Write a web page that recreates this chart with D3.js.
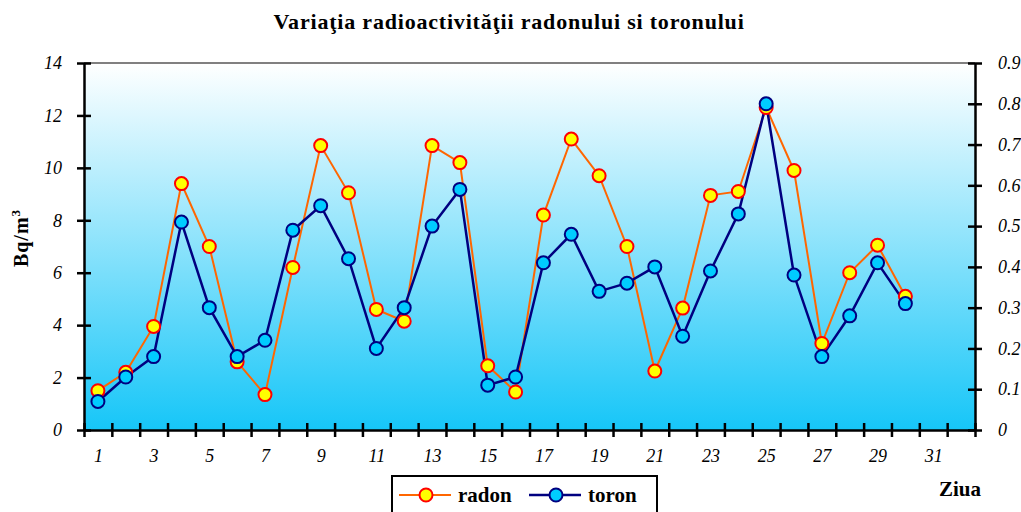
<!DOCTYPE html>
<html>
<head>
<meta charset="utf-8">
<script src="https://cdn.jsdelivr.net/npm/d3@7/dist/d3.min.js"></script>
<style>
  body { margin: 0; background: #fff; }
</style>
</head>
<body>
<div id="chart"></div>
<script>
const days = d3.range(1, 33);
const radon = [1.5, 2.2, 3.95, 9.4, 7.0, 2.6, 1.35, 6.2, 10.85, 9.05,
               4.6, 4.15, 10.85, 10.2, 2.45, 1.45, 8.2, 11.1, 9.7, 7.0,
               2.25, 4.65, 8.95, 9.1, 12.3, 9.9, 3.3, 6.0, 7.05, 5.1];
const toron = [0.07, 0.13, 0.18, 0.51, 0.30, 0.18, 0.22, 0.49, 0.55, 0.42,
               0.20, 0.30, 0.50, 0.59, 0.11, 0.13, 0.41, 0.48, 0.34, 0.36,
               0.40, 0.23, 0.39, 0.53, 0.80, 0.38, 0.18, 0.28, 0.41, 0.31];
const leftTicks = [0, 2, 4, 6, 8, 10, 12, 14];
const rightTicks = [0, 0.1, 0.2, 0.3, 0.4, 0.5, 0.6, 0.7, 0.8, 0.9];
const dayLabels = days.filter(d => d % 2 === 1);

const W = 1021, H = 512;
const margin = {top: 63, right: 46, bottom: 82, left: 84};
const width = W - margin.left - margin.right;
const height = H - margin.top - margin.bottom;
const font = '"Liberation Serif", "Times New Roman", "Liberation Sans", sans-serif';

let svg = d3.select('#chart').append('svg')
    .attr('width', W).attr('height', H)
    .attr('font-family', font);

let grad = svg.append('defs').append('linearGradient')
    .attr('id', 'bg').attr('x1', 0).attr('y1', 0).attr('x2', 0).attr('y2', 1);
grad.append('stop').attr('offset', '0%').attr('stop-color', '#ffffff');
grad.append('stop').attr('offset', '100%').attr('stop-color', '#16c6f8');

let g = svg.append('g').attr('transform', 'translate(' + margin.left + ',' + margin.top + ')');

let x = d3.scaleLinear().domain([0.5, days.length + 0.5]).range([0, width]);
let yL = d3.scaleLinear().domain([0, 14]).range([height, 0]);
let yR = d3.scaleLinear().domain([0, 0.9]).range([height, 0]);

g.append('rect').attr('width', width).attr('height', height).attr('fill', 'url(#bg)');
g.append('line').attr('x1', 0).attr('x2', width).attr('y1', 0).attr('y2', 0)
    .attr('stroke', '#808080').attr('stroke-width', 2);

// left axis, ticks crossing the line
let axL = g.append('g')
    .call(d3.axisLeft(yL).tickValues(leftTicks).tickSize(14).tickPadding(8).tickSizeOuter(0));
axL.selectAll('.tick line').attr('transform', 'translate(7,0)');

let axR = g.append('g').attr('transform', 'translate(' + width + ',0)')
    .call(d3.axisRight(yR).tickValues(rightTicks).tickSize(14).tickPadding(9)
        .tickSizeOuter(0).tickFormat(d => d === 0 ? '0' : d3.format('.1f')(d)));
axR.selectAll('.tick line').attr('transform', 'translate(-7,0)');

let axB = g.append('g').attr('transform', 'translate(0,' + height + ')')
    .call(d3.axisBottom(x).tickValues(d3.range(0.5, days.length + 1, 1))
        .tickSize(14).tickSizeOuter(0).tickFormat(''));
axB.selectAll('.tick line').attr('transform', 'translate(0,-7)');

let axBL = g.append('g').attr('transform', 'translate(0,' + height + ')')
    .call(d3.axisBottom(x).tickValues(dayLabels).tickSize(0).tickPadding(19));
axBL.select('.domain').remove();

[axL, axR, axB].forEach(a => {
    a.select('.domain').attr('stroke', '#000').attr('stroke-width', 2.5);
    a.selectAll('.tick line').attr('stroke', '#000').attr('stroke-width', 2.5);
});
[axL, axR, axBL].forEach(a => {
    a.attr('font-family', font);
    a.selectAll('text').attr('font-size', 18).attr('font-style', 'italic').attr('fill', '#000');
});

const series = [
    {name: 'radon', data: radon, y: yL, line: '#ff6600', lw: 2, fill: '#ffff00', stroke: '#ff0000'},
    {name: 'toron', data: toron, y: yR, line: '#000080', lw: 2.5, fill: '#00ccff', stroke: '#000080'}
];

series.forEach(s => {
    let line = d3.line().x((d, i) => x(i + 1)).y(d => s.y(d));
    g.append('path').datum(s.data)
        .attr('fill', 'none').attr('stroke', s.line).attr('stroke-width', s.lw)
        .attr('d', line);
});
series.forEach(s => {
    g.append('g').selectAll('circle').data(s.data).join('circle')
        .attr('cx', (d, i) => x(i + 1)).attr('cy', d => s.y(d)).attr('r', 6.5)
        .attr('fill', s.fill).attr('stroke', s.stroke).attr('stroke-width', 2);
});

// title and axis labels
svg.append('text').attr('x', 509).attr('y', 29).attr('text-anchor', 'middle')
    .attr('font-size', 22).attr('font-weight', 'bold').attr('letter-spacing', 0.8)
    .text('Variaţia radioactivităţii radonului si toronului');
let yt = svg.append('text').attr('transform', 'translate(28,238) rotate(-90)').attr('text-anchor', 'middle')
    .attr('font-size', 20).attr('font-weight', 'bold').attr('letter-spacing', 1);
yt.append('tspan').text('Bq/m');
yt.append('tspan').attr('font-size', 13).attr('dy', -8).text('3');
svg.append('text').attr('x', 960).attr('y', 496).attr('text-anchor', 'middle')
    .attr('font-size', 21).attr('font-weight', 'bold').text('Ziua');

// legend
let lg = svg.append('g').attr('transform', 'translate(392,476)');
lg.append('rect').attr('width', 265).attr('height', 40)
    .attr('fill', '#fff').attr('stroke', '#000').attr('stroke-width', 2);
series.forEach((s, i) => {
    let off = i === 0 ? 7 : 137;
    let it = lg.append('g').attr('transform', 'translate(' + off + ',0)');
    it.append('line').attr('x1', 0).attr('x2', 52).attr('y1', 19).attr('y2', 19)
        .attr('stroke', s.line).attr('stroke-width', s.lw);
    it.append('circle').attr('cx', 27).attr('cy', 19).attr('r', 6.5)
        .attr('fill', s.fill).attr('stroke', s.stroke).attr('stroke-width', 2);
    it.append('text').attr('x', 59).attr('y', 26).attr('font-size', 21)
        .attr('font-weight', 'bold').text(s.name);
});
</script>
</body>
</html>
